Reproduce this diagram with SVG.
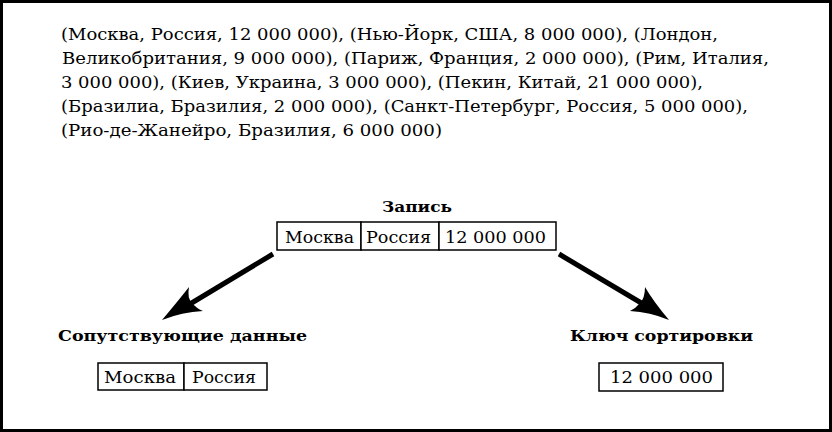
<svg xmlns="http://www.w3.org/2000/svg" width="832" height="432" viewBox="0 0 832 432">
<style>
text{font-family:"DejaVu Serif","Liberation Serif",serif;font-size:16.5px;fill:#000}
.b{font-weight:bold;font-size:15px}
.cell{fill:#fff;stroke:#000;stroke-width:1.5}
.conn{stroke:#000;stroke-width:5;fill:none}
.head{fill:#000}
</style>
<rect x="1.5" y="1.5" width="829" height="429" fill="#fff" stroke="#000" stroke-width="3"/>
<g id="list">
<text x="61" y="40" textLength="657" lengthAdjust="spacingAndGlyphs">(Москва, Россия, 12 000 000), (Нью-Йорк, США, 8 000 000), (Лондон,</text>
<text x="62" y="64" textLength="707" lengthAdjust="spacingAndGlyphs">Великобритания, 9 000 000), (Париж, Франция, 2 000 000), (Рим, Италия,</text>
<text x="61" y="88" textLength="642" lengthAdjust="spacingAndGlyphs">3 000 000), (Киев, Украина, 3 000 000), (Пекин, Китай, 21 000 000),</text>
<text x="61" y="112" textLength="687" lengthAdjust="spacingAndGlyphs">(Бразилиа, Бразилия, 2 000 000), (Санкт-Петербург, Россия, 5 000 000),</text>
<text x="61" y="136" textLength="381" lengthAdjust="spacingAndGlyphs">(Рио-де-Жанейро, Бразилия, 6 000 000)</text>
</g>
<g id="record">
<text class="b" x="382" y="212" textLength="70" lengthAdjust="spacingAndGlyphs">Запись</text>
<rect class="cell" x="277" y="222" width="84" height="28"/>
<rect class="cell" x="361" y="222" width="78" height="28"/>
<rect class="cell" x="439" y="222" width="117" height="28"/>
<text x="285" y="243" textLength="69" lengthAdjust="spacingAndGlyphs">Москва</text>
<text x="366" y="243" textLength="65" lengthAdjust="spacingAndGlyphs">Россия</text>
<text x="445" y="243" textLength="101" lengthAdjust="spacingAndGlyphs">12 000 000</text>
</g>
<g id="satellite">
<text class="b" x="58" y="341" textLength="249" lengthAdjust="spacingAndGlyphs">Сопутствующие данные</text>
<rect class="cell" x="98" y="363" width="86" height="27"/>
<rect class="cell" x="184" y="363" width="83" height="27"/>
<text x="104" y="383" textLength="72" lengthAdjust="spacingAndGlyphs">Москва</text>
<text x="192" y="383" textLength="64" lengthAdjust="spacingAndGlyphs">Россия</text>
</g>
<g id="key">
<text class="b" x="570" y="341" textLength="183" lengthAdjust="spacingAndGlyphs">Ключ сортировки</text>
<rect class="cell" x="599" y="363" width="124" height="28"/>
<text x="610" y="383" textLength="103" lengthAdjust="spacingAndGlyphs">12 000 000</text>
</g>
<g id="connectors">
<line class="conn" x1="273" y1="254" x2="185" y2="307"/>
<path class="head" d="M162,320 Q178,301 189,287 Q187,298 192,303 Q196,308 203,311 Q182,312 162,320 Z"/>
<line class="conn" x1="559" y1="254" x2="648" y2="307"/>
<path class="head" d="M669,320 Q653,301 645,287 Q645,298 640,303 Q636,308 630,311 Q650,312 669,320 Z"/>
</g>
</svg>
